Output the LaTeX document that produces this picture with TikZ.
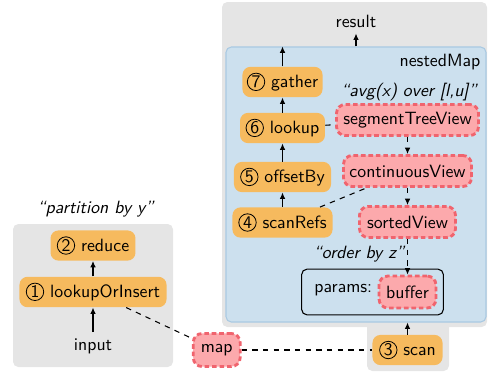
\documentclass[tikz,border=0pt]{standalone}
\usepackage{fontspec}
\usetikzlibrary{arrows.meta}
\definecolor{ofill}{HTML}{F6BA5E}
\definecolor{rfill}{HTML}{FCA9AC}
\definecolor{rdraw}{HTML}{F0646E}
\definecolor{bfill}{HTML}{CCE0EE}
\definecolor{bdraw}{HTML}{A9C9E2}
\definecolor{gfill}{HTML}{E5E5E5}
\newcommand\cn[2]{\tikz[baseline=(#1.base)]\node[circle,draw=black,fill=none,solid,line width=0.45pt,inner sep=0pt,minimum size=9.8pt,sharp corners,font=\sffamily](#1){#2};}
\tikzset{
  proc/.style={fill=ofill, draw=none, rounded corners=4.5pt, minimum height=17pt, inner xsep=2.5pt, font=\sffamily},
  view/.style={fill=rfill, draw=rdraw, line width=1.6pt, dash pattern=on 2.6pt off 1.6pt, rounded corners=5pt, minimum height=17.5pt, inner xsep=2.5pt, font=\sffamily},
  lbl/.style={font=\sffamily\itshape},
  txt/.style={font=\sffamily},
  conn/.style={-{Latex[length=3.6pt,width=3.2pt]}, line width=0.6pt},
  dconn/.style={dashed, line width=0.6pt},
  bgbox/.style={fill=gfill, draw=none, rounded corners=3pt},
}
\begin{document}
\begin{tikzpicture}[x=0.5625pt, y=-0.5625pt]
\useasboundingbox (0,0) rectangle (488,373);
% backgrounds
\fill[gfill, rounded corners=3pt] (13,224) rectangle (173,367);
\fill[gfill, rounded corners=3pt] (222,2) rectangle (487,327);
\fill[gfill, rounded corners=3pt] (367,318) rectangle (449,371);
\node[fill=bfill, draw=bdraw, line width=0.6pt, rounded corners=3pt, minimum width=146.25pt, minimum height=154.7pt, inner sep=0pt] (nested) at (356,184.5) {};
\node[draw=black, line width=0.6pt, rounded corners=3pt, minimum width=79.7pt, minimum height=25.7pt, inner sep=0pt] (params) at (372.5,292) {};
% texts
\node[txt] (result) at (356,21) {result};
\node[txt] (nestedlbl) at (440,62) {nestedMap};
\node[lbl] (avg) at (409,92) {``avg(x) over [l,u]''};
\node[lbl] (order) at (359,254) {``order by z''};
\node[lbl] (partition) at (95.5,209) {``partition by y''};
\node[txt] (input) at (93,346) {input};
\node[txt] (paramslbl) at (343.3,290) {params:};
% process nodes
\node[proc, minimum width=44.4pt] (gather) at (282.5,82) {\cn{c7}{7} gather};
\node[proc, minimum width=47.8pt] (lookup) at (282.5,128) {\cn{c6}{6} lookup};
\node[proc, minimum width=54.6pt] (offsetBy) at (282.5,177) {\cn{c5}{5} offsetBy};
\node[proc, minimum width=56.3pt] (scanRefs) at (282.5,222.5) {\cn{c4}{4} scanRefs};
\node[proc, minimum width=47.8pt] (reduce) at (93,245.5) {\cn{c2}{2} reduce};
\node[proc, minimum width=82.7pt] (lookupOrInsert) at (93,292) {\cn{c1}{1} lookupOrInsert};
\node[proc, minimum width=39.4pt] (scan) at (407.5,350) {\cn{c3}{3} scan};
% view nodes
\node[view, minimum width=79.9pt] (segment) at (407.5,120) {segmentTreeView};
\node[view, minimum width=72pt] (continuous) at (407.5,171) {continuousView};
\node[view, minimum width=54pt] (sorted) at (407.5,222) {sortedView};
\node[view, minimum width=26.4pt, minimum height=18.6pt] (map) at (216.7,350) {map};
\node[view, minimum width=32pt, minimum height=18pt] (buffer) at (407.5,292) {buffer};
% connectors
\draw[conn] (nested.north) -- (result);
\draw[conn] (gather) -- (gather |- nested.north);
\draw[conn] (lookup) -- (gather);
\draw[conn] (offsetBy) -- (lookup);
\draw[conn] (scanRefs) -- (offsetBy);
\draw[conn] (input) -- (lookupOrInsert);
\draw[conn] (lookupOrInsert) -- (reduce);
\draw[conn] (scan) -- (scan |- nested.south);
\draw[dconn] (lookup) -- (segment);
\draw[dconn] (scanRefs) -- (continuous);
\draw[dconn] (lookupOrInsert) -- (map);
\draw[dconn] (map) -- (scan);
\draw[dconn, conn] (segment) -- (continuous);
\draw[dconn, conn] (continuous) -- (sorted);
\draw[dconn, conn] (sorted) -- (buffer);
\end{tikzpicture}
\end{document}
